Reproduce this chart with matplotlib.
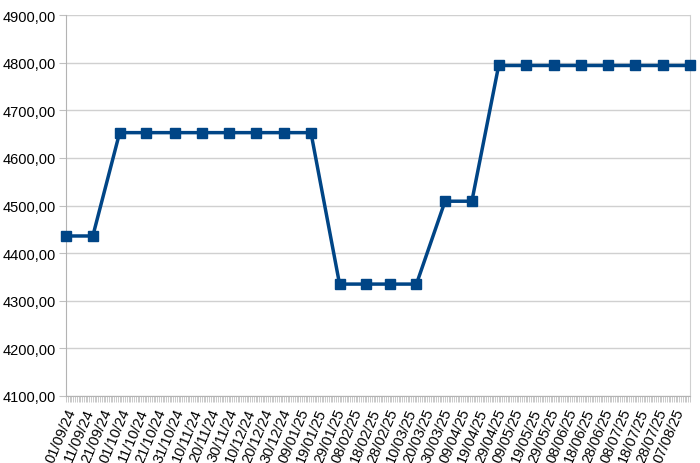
"""
    Price history on a date axis, semi-monthly readings
"""

import pandas as pd
from matplotlib import pyplot as plt
from matplotlib import dates as mdates
from matplotlib import ticker

# Data
dates = [
    "2024-09-01", "2024-09-16", "2024-10-01", "2024-10-16", "2024-11-01", "2024-11-16",
    "2024-12-01", "2024-12-16", "2025-01-01", "2025-01-16", "2025-02-01", "2025-02-16",
    "2025-03-01", "2025-03-16", "2025-04-01", "2025-04-16", "2025-05-01", "2025-05-16",
    "2025-06-01", "2025-06-16", "2025-07-01", "2025-07-16", "2025-08-01", "2025-08-16",
]
values = [
    4436, 4436, 4653, 4653, 4653, 4653,
    4653, 4653, 4653, 4653, 4335, 4335,
    4335, 4335, 4509, 4509, 4794, 4794,
    4794, 4794, 4794, 4794, 4794, 4794,
]
y_ticks = [4100, 4200, 4300, 4400, 4500, 4600, 4700, 4800, 4900]

plt.rcParams["font.family"] = ["Liberation Sans", "DejaVu Sans"]

x = pd.to_datetime(dates)

fig = plt.figure(figsize=(7, 4.64), dpi=100)
ax = fig.add_axes([0.0943, 0.1444, 0.8914, 0.8211])

ax.plot(x, values, color="#004586", linewidth=2.5, marker="s", markersize=7.5,
        zorder=3, clip_on=False)

# Axis limits
ax.set_xlim(x[0], x[-1])
ax.set_ylim(y_ticks[0], y_ticks[-1])

# y axis
ax.set_yticks(y_ticks)
ax.yaxis.set_major_formatter(ticker.FuncFormatter(lambda v, p: f"{v:.2f}".replace(".", ",")))
ax.grid(axis="y", color="#d0d0d0", linewidth=1)
ax.set_axisbelow(True)

# x axis: labels every 10 days, minor ticks daily
major = pd.date_range(x[0], x[-1], freq="10D")
ax.set_xticks(major)
ax.xaxis.set_major_formatter(mdates.DateFormatter("%d/%m/%y"))
ax.xaxis.set_minor_locator(mdates.DayLocator())
plt.setp(ax.get_xticklabels(), rotation=67, ha="right", rotation_mode="anchor")

ax.tick_params(axis="both", which="both", labelsize=10.5, colors="#c0c0c0", labelcolor="black")
ax.tick_params(axis="x", which="both", length=4, width=0.6, pad=3)
ax.tick_params(axis="y", length=5, width=0.8, pad=2)

for s in ["left", "bottom"]:
    ax.spines[s].set_color("#b3b3b3")
ax.spines["right"].set_color("#d0d0d0")
ax.spines["top"].set_visible(False)

fig.savefig("out.png", dpi=100)
